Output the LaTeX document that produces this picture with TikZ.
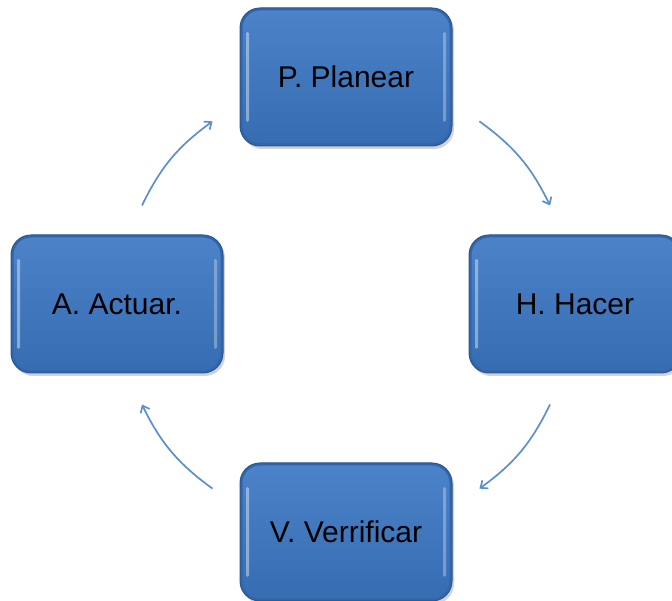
\documentclass[tikz,border=0pt]{standalone}
\usepackage{fontspec}
\setmainfont{Liberation Sans}
\usepackage{tikz}
\usetikzlibrary{arrows.meta,shadows}

\definecolor{cajaazul}{HTML}{3C78C4}
\definecolor{cajaborde}{HTML}{2A5894}
\definecolor{cajabisel}{HTML}{3265AA}
\definecolor{flechaazul}{HTML}{5B8FD0}

\tikzset{
  paso/.style={rectangle, rounded corners=20pt, minimum width=212pt, minimum height=138pt,
    draw=cajaborde, line width=1pt, top color=cajaazul!92!white, bottom color=cajaazul!90!black,
    drop shadow={shadow xshift=2pt, shadow yshift=-3pt, opacity=0.35},
    path picture={
      % bisel oscuro y brillos laterales
      \draw[cajabisel, line width=5pt, rounded corners=20pt]
        (path picture bounding box.north west) rectangle (path picture bounding box.south east);
      \fill[white, opacity=0.4, rounded corners=1.5pt]
        ([xshift=6pt, yshift=-24pt]path picture bounding box.north west)
        rectangle ([xshift=9pt, yshift=24pt]path picture bounding box.south west);
      \fill[white, opacity=0.3, rounded corners=1.5pt]
        ([xshift=-6pt, yshift=-24pt]path picture bounding box.north east)
        rectangle ([xshift=-9pt, yshift=24pt]path picture bounding box.south east);
    },
    font=\fontsize{30}{34}\selectfont, text=black},
  flecha/.style={draw=flechaazul, line width=1.7pt, -{Straight Barb[length=6pt, width=10pt]}}
}

\begin{document}
\begin{tikzpicture}[x=1pt, y=1pt]

    \useasboundingbox (0,0) rectangle (672,601);

    \node[paso] (p) at (346, 524) {P. Planear};
    \node[paso] (h) at (575, 297) {H. Hacer};
    \node[paso] (v) at (346, 69) {V. Verrificar};
    \node[paso] (a) at (117, 297) {A. Actuar.};

    \coordinate (o) at (346, 296);
    \coordinate (a1) at ([shift={(154:227)}]o);
    \coordinate (a2) at ([shift={(126:227)}]o);
    \coordinate (a3) at ([shift={(54:227)}]o);
    \coordinate (a4) at ([shift={(26:227)}]o);
    \coordinate (a5) at ([shift={(-26:227)}]o);
    \coordinate (a6) at ([shift={(-54:227)}]o);
    \coordinate (a7) at ([shift={(-126:227)}]o);
    \coordinate (a8) at ([shift={(-154:227)}]o);

    \draw [flecha] (a1) to[bend left=14] (a2);
    \draw [flecha] (a3) to[bend left=14] (a4);
    \draw [flecha] (a5) to[bend left=14] (a6);
    \draw [flecha] (a7) to[bend left=14] (a8);

\end{tikzpicture}
\end{document}
